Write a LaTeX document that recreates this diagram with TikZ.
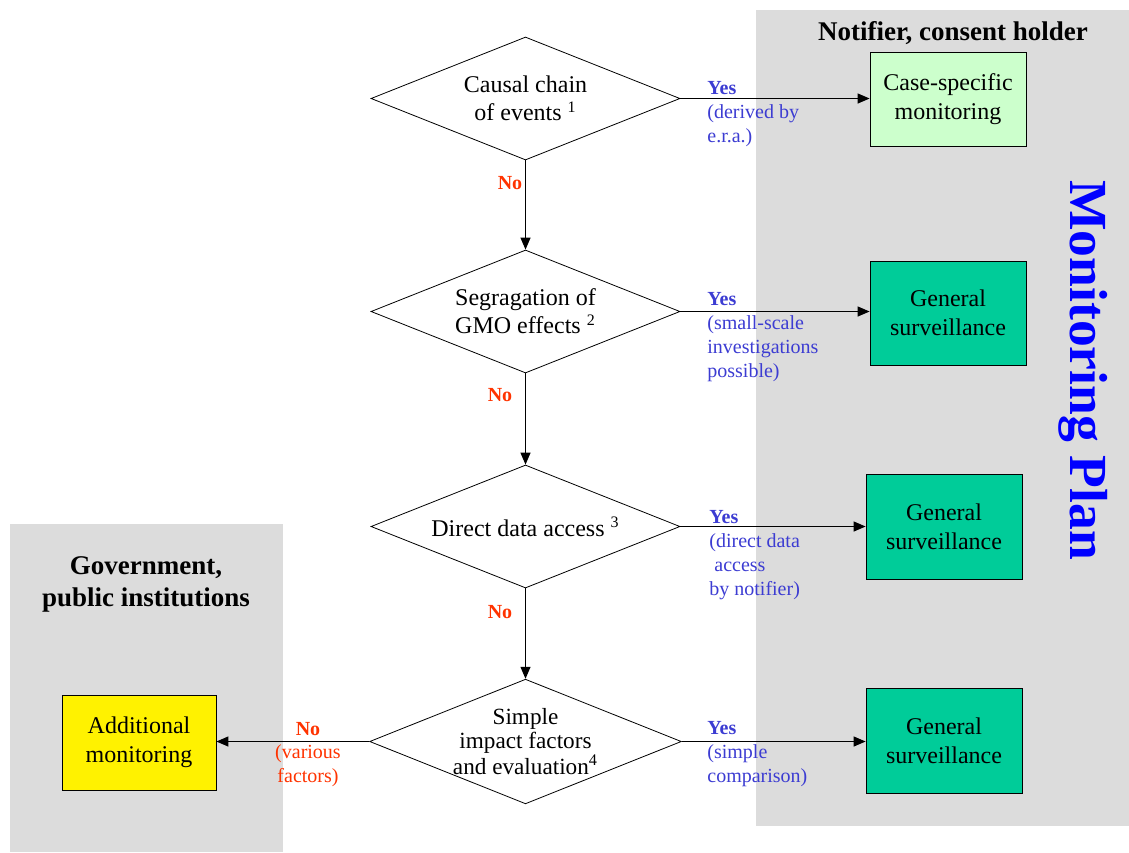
\documentclass[tikz,border=0pt]{standalone}
\usepackage{fontspec}
\setmainfont{Liberation Serif}
\usetikzlibrary{shapes.geometric,arrows.meta}
\definecolor{panelgray}{HTML}{DCDCDC}
\definecolor{casegreen}{HTML}{CCFFCC}
\definecolor{survgreen}{HTML}{00CC99}
\definecolor{yesblue}{HTML}{3C3CD2}
\definecolor{nored}{HTML}{FF3300}
\definecolor{planblue}{HTML}{0000FF}

\begin{document}
\begin{tikzpicture}[x=0.5pt,y=-0.5pt,
    decision/.style={draw, diamond, aspect=2.5, inner sep=0pt, minimum width=154.5pt, minimum height=61.5pt, align=center, font=\rmfamily\fontsize{12}{14}\selectfont},
    outcome/.style={draw, rectangle, minimum width=78pt, align=center, font=\rmfamily\fontsize{12}{14.5}\selectfont},
    flow/.style={-{Triangle[length=6pt,width=5pt]}, line width=0.6pt},
    yeslabel/.style={anchor=north west, align=left, inner sep=0pt, text=yesblue, font=\rmfamily\fontsize{10}{12}\selectfont},
    nolabel/.style={inner sep=0pt, text=nored, font=\rmfamily\bfseries\fontsize{10}{12}\selectfont},
    heading/.style={font=\bfseries\fontsize{13.5}{16}\selectfont, align=center}]
    \useasboundingbox (0,0) rectangle (1129,852);
    % panels of the two parties
    \fill[panelgray] (756,10) rectangle (1129,826);
    \fill[panelgray] (10,524) rectangle (283,852);
    \node[heading] (notifier) at (953,33) {Notifier, consent holder};
    \node[heading] (government) at (146,584) {Government,\\public institutions};
    \node[rotate=-90, text=planblue, font=\bfseries\fontsize{26.8}{30}\selectfont] (plan) at (1083,370) {Monitoring Plan};

    % decisions
    \node[decision] (causal) at (525.5,98.5) {Causal chain\\of events \textsuperscript{1}};
    \node[decision] (segregation) at (525.5,311.5) {Segragation of\\GMO effects \textsuperscript{2}};
    \node[decision] (direct) at (525.5,526.5) {Direct data access \textsuperscript{3}};
    \node[decision, font=\rmfamily\fontsize{11.6}{12}\selectfont] (simple) at (525.5,741.5) {Simple\\impact factors\\and evaluation\textsuperscript{4}};

    % outcomes
    \node[outcome, fill=casegreen, minimum height=47pt] (casespecific) at (948,99) {Case-specific\\monitoring};
    \node[outcome, fill=survgreen, minimum height=52pt] (general1) at (948,313) {General\\surveillance};
    \node[outcome, fill=survgreen, minimum height=52.5pt] (general2) at (944,526.5) {General\\surveillance};
    \node[outcome, fill=survgreen, minimum height=52.5pt] (general3) at (944,740.5) {General\\surveillance};
    \node[outcome, fill=yellow, minimum width=77pt, minimum height=47.5pt] (additional) at (139,742.5) {Additional\\monitoring};

    % connectors
    \draw[flow] (causal.east) -- (causal.east -| casespecific.west);
    \draw[flow] (segregation.east) -- (segregation.east -| general1.west);
    \draw[flow] (direct.east) -- (direct.east -| general2.west);
    \draw[flow] (simple.east) -- (simple.east -| general3.west);
    \draw[flow] (simple.west) -- (simple.west -| additional.east);
    \draw[flow] (causal.south) -- (segregation.north);
    \draw[flow] (segregation.south) -- (direct.north);
    \draw[flow] (direct.south) -- (simple.north);

    % branch labels
    \node[yeslabel] (yes1) at (707,81) {\textbf{Yes}\\(derived by\\e.r.a.)};
    \node[yeslabel] (yes2) at (707,292) {\textbf{Yes}\\(small-scale\\investigations\\possible)};
    \node[yeslabel] (yes3) at (709,510) {\textbf{Yes}\\(direct data\\\ access\\by notifier)};
    \node[yeslabel] (yes4) at (707,721) {\textbf{Yes}\\(simple\\comparison)};
    \node[nolabel] (no1) at (510,183) {No};
    \node[nolabel] (no2) at (500,395) {No};
    \node[nolabel] (no3) at (500,612) {No};
    \node[nolabel] (no4) at (308,729) {No};
    \node[inner sep=0pt, text=nored, align=center, font=\rmfamily\fontsize{10}{12}\selectfont] (various) at (308,766) {(various\\factors)};
\end{tikzpicture}
\end{document}
